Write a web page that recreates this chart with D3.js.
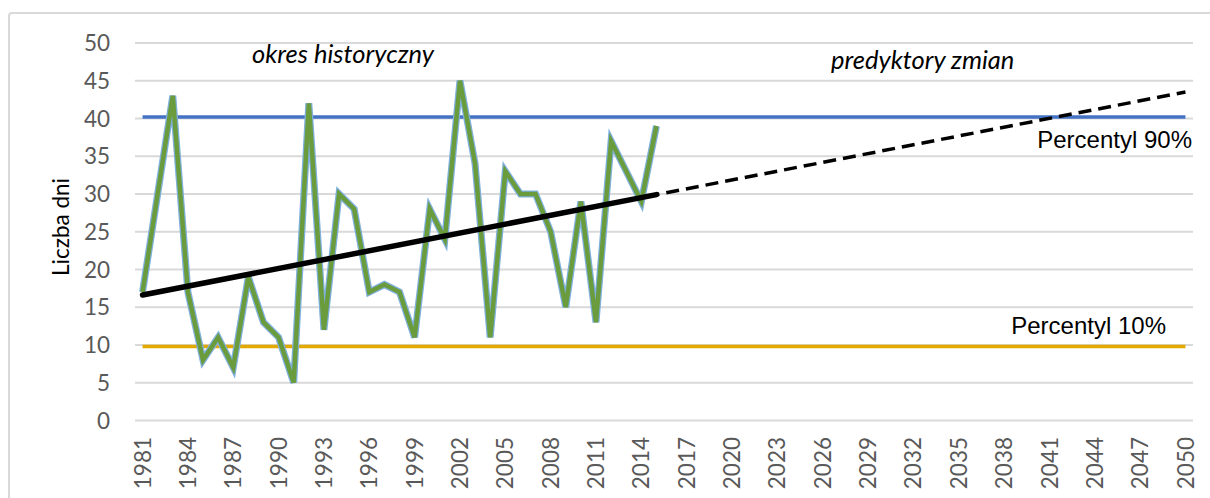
<!DOCTYPE html>
<html>
<head>
<meta charset="utf-8">
<script src="https://cdn.jsdelivr.net/npm/d3@7"></script>
<style>
  body { margin: 0; background: #fff; }
  svg { display: block; }
</style>
</head>
<body>
<svg id="chart" width="1210" height="498"></svg>
<script>
// lata historyczne i liczba dni
var histYears = d3.range(1981, 2016);
var histValues = [17, 30, 43, 17, 8, 11, 7, 19, 13, 11, 5, 42, 12, 30, 28, 17, 18, 17, 11, 28,
                  24, 45, 34, 11, 33, 30, 30, 25, 15, 29, 13, 37, 33, 29, 39];

// cala os kategorii 1981-2050
var allYears = d3.range(1981, 2051);

// trend: odczytane punkty (1981, 2015, 2050)
var trendYears = [1981, 2015, 2050];
var trendValues = [16.6, 29.9, 43.5];

var p90 = 40.2,
    p10 = 9.8;

var yTicks = [0, 5, 10, 15, 20, 25, 30, 35, 40, 45, 50];

var svg = d3.select("#chart");

var x = d3.scaleBand()
    .domain(allYears)
    .range([135, 1193])
    .paddingInner(0)
    .paddingOuter(0);

function cx(year) {
    return x(year) + x.bandwidth() / 2;
}

var y = d3.scaleLinear()
    .domain([0, 50])
    .range([420.4, 42.9]);

// ramka wykresu
svg.append("rect")
    .attr("x", 9)
    .attr("y", 13)
    .attr("width", 1240)
    .attr("height", 520)
    .attr("rx", 3)
    .style("fill", "none")
    .style("stroke", "#d9d9d9")
    .style("stroke-width", 2);

// siatka
svg.selectAll(".grid")
    .data(yTicks)
    .join("line")
    .attr("class", "grid")
    .attr("x1", 135)
    .attr("x2", 1193)
    .attr("y1", function (d) { return y(d); })
    .attr("y2", function (d) { return y(d); })
    .style("stroke", "#d9d9d9")
    .style("stroke-width", 2);

// etykiety osi Y
svg.selectAll(".ytick")
    .data(yTicks)
    .join("text")
    .attr("class", "ytick")
    .attr("x", 110)
    .attr("y", function (d) { return y(d); })
    .attr("dy", "0.36em")
    .attr("text-anchor", "end")
    .text(function (d) { return d; })
    .style("font-family", "Lato, 'Open Sans', sans-serif")
    .style("font-size", "22.5px")
    .style("fill", "#595959");

// etykiety osi X (co 3 lata)
svg.selectAll(".xtick")
    .data(allYears.filter(function (d, i) { return i % 3 == 0; }))
    .join("text")
    .attr("class", "xtick")
    .attr("transform", function (d) {
        return "translate(" + cx(d) + ",437) rotate(-90)";
    })
    .attr("dy", "0.36em")
    .attr("text-anchor", "end")
    .text(function (d) { return d; })
    .style("font-family", "Lato, 'Open Sans', sans-serif")
    .style("font-size", "22.5px")
    .style("fill", "#595959");

// tytul osi Y
svg.append("text")
    .attr("transform", "translate(61,227) rotate(-90)")
    .attr("dy", "0.36em")
    .attr("text-anchor", "middle")
    .text("Liczba dni")
    .style("font-family", "Lato, 'Open Sans', sans-serif")
    .style("font-size", "22.5px")
    .style("fill", "#000");

// percentyle
svg.append("line")
    .attr("x1", cx(allYears[0]))
    .attr("x2", cx(allYears[allYears.length - 1]))
    .attr("y1", y(p90))
    .attr("y2", y(p90))
    .style("stroke", "#4472c4")
    .style("stroke-width", 3.5);

svg.append("line")
    .attr("x1", cx(allYears[0]))
    .attr("x2", cx(allYears[allYears.length - 1]))
    .attr("y1", y(p10))
    .attr("y2", y(p10))
    .style("stroke", "#e2a900")
    .style("stroke-width", 3.5);

// seria historyczna - niebieska obwodka + zielona linia
var histLine = d3.line()
    .x(function (d, i) { return cx(histYears[i]); })
    .y(function (d) { return y(d); });

svg.append("path")
    .attr("d", histLine(histValues))
    .style("fill", "none")
    .style("stroke", "#7fb0dc")
    .style("stroke-width", 7)
    .style("stroke-linejoin", "miter");

svg.append("path")
    .attr("d", histLine(histValues))
    .style("fill", "none")
    .style("stroke", "#6a9c3e")
    .style("stroke-width", 4.5)
    .style("stroke-linejoin", "miter");

// trend
var trendLine = d3.line()
    .x(function (d) { return cx(d[0]); })
    .y(function (d) { return y(d[1]); });

var trendPts = d3.zip(trendYears, trendValues);

svg.append("path")
    .attr("d", trendLine(trendPts.slice(0, 2)))
    .style("fill", "none")
    .style("stroke", "#000")
    .style("stroke-width", 5.5)
    .style("stroke-linecap", "round");

svg.append("path")
    .attr("d", trendLine(trendPts.slice(1, 3)))
    .style("fill", "none")
    .style("stroke", "#000")
    .style("stroke-width", 3.5)
    .style("stroke-dasharray", "13,7")
    .style("stroke-dashoffset", -10);

// opisy
svg.append("text")
    .attr("x", 1192)
    .attr("y", 148)
    .attr("text-anchor", "end")
    .text("Percentyl 90%")
    .style("font-family", "'Liberation Sans', Arial, sans-serif")
    .style("font-size", "24px")
    .style("fill", "#000");

svg.append("text")
    .attr("x", 1166)
    .attr("y", 334)
    .attr("text-anchor", "end")
    .text("Percentyl 10%")
    .style("font-family", "'Liberation Sans', Arial, sans-serif")
    .style("font-size", "24px")
    .style("fill", "#000");

svg.append("text")
    .attr("x", 252)
    .attr("y", 63)
    .text("okres historyczny")
    .style("font-family", "Lato, 'Open Sans', sans-serif")
    .style("font-style", "italic")
    .style("font-size", "25.5px")
    .style("fill", "#000");

svg.append("text")
    .attr("x", 831)
    .attr("y", 69)
    .text("predyktory zmian")
    .style("font-family", "Lato, 'Open Sans', sans-serif")
    .style("font-style", "italic")
    .style("font-size", "25.5px")
    .style("fill", "#000");
</script>
</body>
</html>
